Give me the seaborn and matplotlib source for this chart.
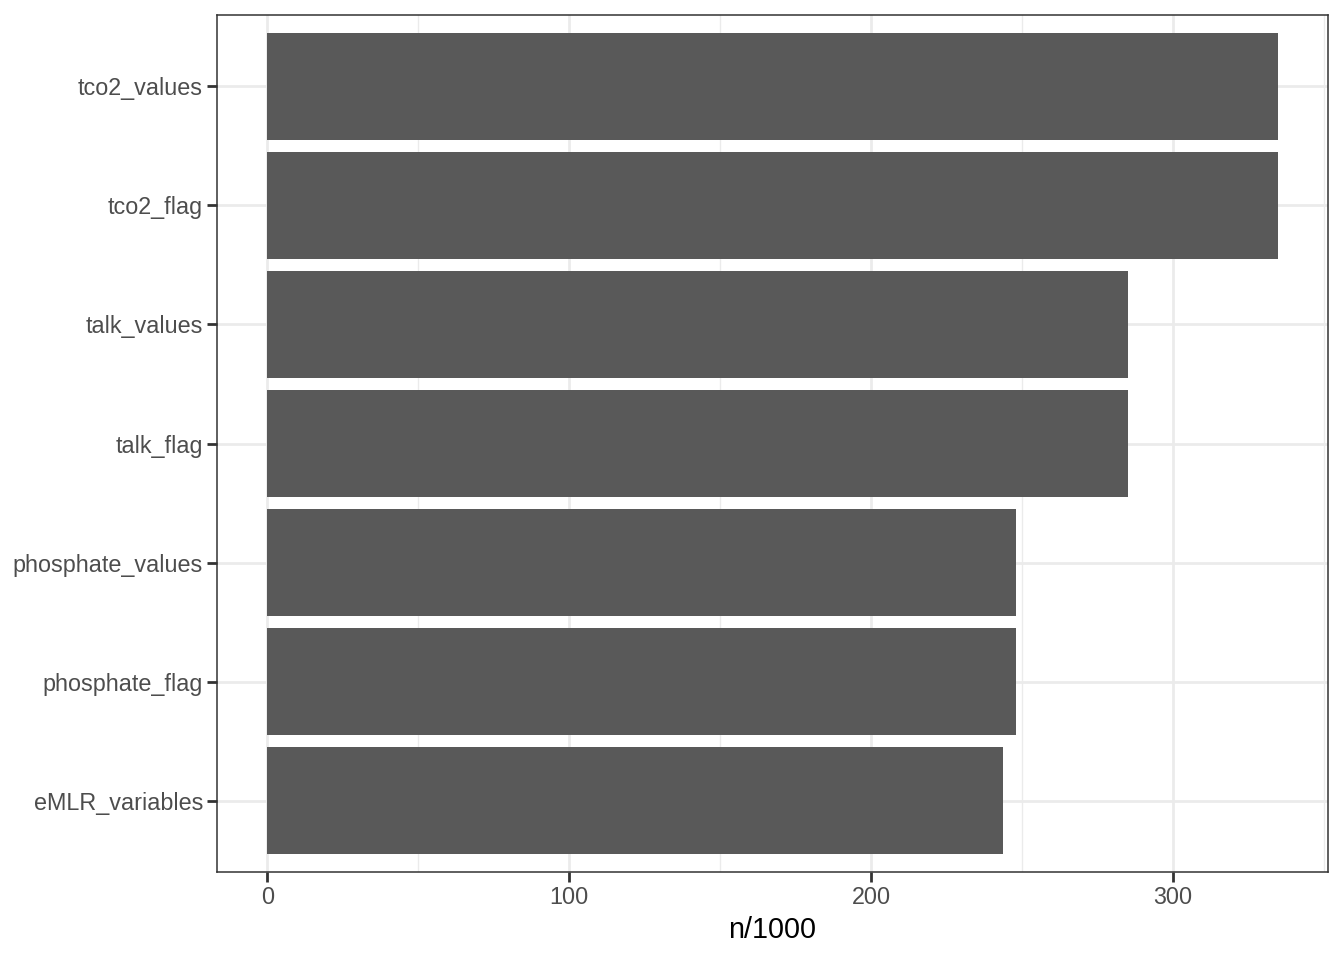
import matplotlib
matplotlib.use("Agg")
import matplotlib.pyplot as plt
import seaborn as sns
import pandas as pd
from matplotlib.ticker import MultipleLocator

categories = ["tco2_values", "tco2_flag", "talk_values", "talk_flag",
              "phosphate_values", "phosphate_flag", "eMLR_variables"]
values = [334.6, 334.6, 285.1, 285.1, 248.1, 248.1, 243.8]

df = pd.DataFrame({"variable": categories, "n": values})

sns.set_theme(style="white")
plt.rcParams["font.family"] = ["Liberation Sans", "DejaVu Sans"]

fig = plt.figure(figsize=(13.44, 9.6), dpi=100)
ax = fig.add_axes([217/1344, 1 - 872/960, (1328-217)/1344, (872-15)/960])

sns.barplot(data=df, x="n", y="variable", order=categories, color="#595959",
            width=0.9, saturation=1, ax=ax, zorder=3, edgecolor="none")

ax.set_xlim(-16.7, 351.3)
ax.set_ylim(6.6, -0.6)
ax.xaxis.set_major_locator(MultipleLocator(100))
ax.xaxis.set_minor_locator(MultipleLocator(50))
ax.grid(True, which="major", color="#EBEBEB", linewidth=2.0, zorder=0)
ax.grid(True, which="minor", axis="x", color="#EBEBEB", linewidth=1.0, zorder=0)
ax.set_axisbelow(True)

for s in ax.spines.values():
    s.set_color("#333333")
    s.set_linewidth(1.1)
    s.set_zorder(5)

ax.tick_params(axis="both", which="major", length=7, width=2, color="#333333",
               labelsize=16.8, labelcolor="#4D4D4D", pad=3, left=True, bottom=True)
ax.tick_params(axis="x", which="minor", length=0)
ax.set_xlabel("n/1000", fontsize=20.7, color="black", labelpad=5)
ax.set_ylabel("")

fig.savefig("out.png", dpi=100)
